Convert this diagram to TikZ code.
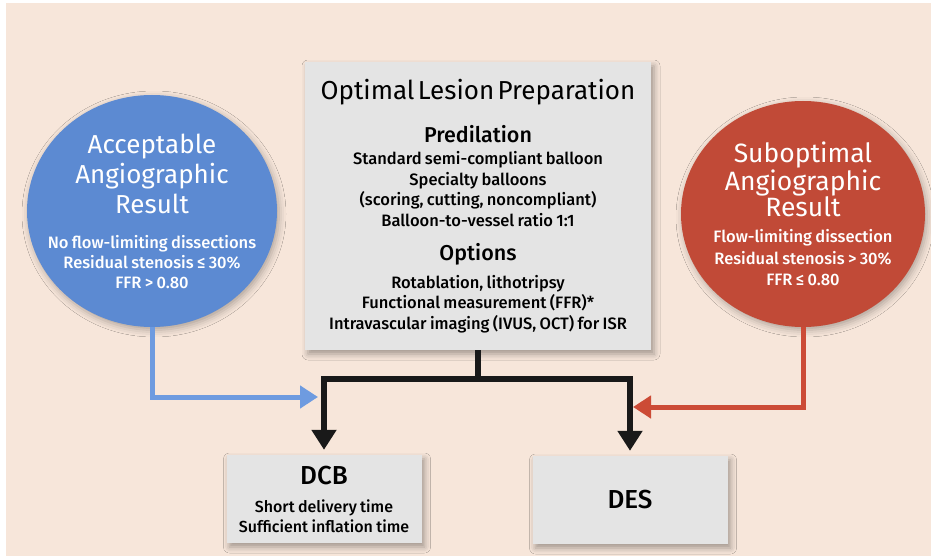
\documentclass[tikz,border=0pt]{standalone}
\usepackage{fontspec}
\setmainfont{Fira Sans}
\IfFontExistsTF{Fira Sans Medium}{\newfontfamily\medfont{Fira Sans Medium}}{\newfontfamily\medfont{Fira Sans}}
\usetikzlibrary{arrows.meta,shapes.geometric,shadows.blur}
\definecolor{peach}{HTML}{F7E6DA}
\definecolor{cardgray}{HTML}{E4E4E4}
\definecolor{accblue}{HTML}{5C8AD2}
\definecolor{subred}{HTML}{C14A37}
\definecolor{lineblue}{HTML}{6E9BE0}
\definecolor{linered}{HTML}{CC4B36}
\newcommand{\fsz}[2]{\fontsize{#1}{#2}\selectfont}
\begin{document}
\begin{tikzpicture}[x=1pt,y=-1pt,
  card/.style={rectangle,fill=cardgray,inner sep=0,align=center,blur shadow={shadow xshift=3pt,shadow yshift=-4pt,shadow blur radius=6pt,shadow opacity=35}},
  result/.style={ellipse,inner sep=0,blur shadow={shadow xshift=2pt,shadow yshift=-3pt,shadow blur radius=7pt,shadow opacity=30}},
  restext/.style={text=white,align=center,text width=240pt,inner sep=0},
  trunk/.style={line width=5.5pt,draw=black!90},
  branch/.style={trunk,-{Triangle[width=24pt,length=20pt]},shorten >=5pt},
  feed/.style={line width=5pt,-{Triangle[width=22pt,length=18pt]}}]
\useasboundingbox (0,0) rectangle (931,556);
\fill[white] (0,0) rectangle (931,556);
\fill[peach] (6,3) rectangle (931,556);
% lesion preparation
\node[card,minimum width=346pt,minimum height=288pt,text width=340pt] (prep) at (478,206) {%
  \fsz{26}{30}Optimal Lesion Preparation\par\vspace{17pt}
  \medfont\fsz{21.5}{26}Predilation\par\vspace{1.5pt}
  \fsz{16.5}{20.5}Standard semi-compliant balloon\\Specialty balloons\\(scoring, cutting, noncompliant)\\Balloon-to-vessel ratio 1:1\par\vspace{8pt}
  \fsz{21.5}{26}Options\par\vspace{7.5pt}
  \fsz{16.5}{20.5}Rotablation, lithotripsy\\Functional measurement (FFR)*\\Intravascular imaging (IVUS, OCT) for ISR\par};
% results
\node[result,fill=accblue,minimum width=250pt,minimum height=232pt] (acc) at (152,211) {};
\node[restext] (acctxt) at (acc) {%
  \fsz{26}{30}Acceptable\\Angiographic\\Result\par\vspace{15pt}
  \medfont\fsz{16.5}{20}No flow-limiting dissections\\Residual stenosis ≤ 30\%\\FFR > 0.80\par};
\node[result,fill=subred,minimum width=244pt,minimum height=226pt] (sub) at (803,214) {};
\node[restext] (subtxt) at (sub) {%
  \fsz{26.5}{26}Suboptimal\\Angiographic\\Result\par\vspace{5pt}
  \medfont\fsz{16.5}{21.5}Flow-limiting dissection\\Residual stenosis > 30\%\\FFR ≤ 0.80\par};
% devices
\node[card,minimum width=195pt,minimum height=88pt,text width=190pt] (dcb) at (324,499) {%
  \medfont\fsz{26}{30}DCB\par\vspace{8pt}
  \fsz{16}{20}Short delivery time\\Sufficient inflation time\par};
\node[card,minimum width=195pt,minimum height=88pt,text width=190pt] (des) at (630,500) {\medfont\fsz{26}{30}DES};
% connectors
\coordinate (split) at (478,379);
\coordinate (bluein) at (318,397);
\coordinate (redin) at (633,407);
\draw[trunk] (prep.south) -- (split);
\draw[branch] (split) -| (dcb.north);
\draw[branch] (split) -| (des.north);
\draw[feed,lineblue] (acc.south) |- (bluein);
\draw[feed,linered] (sub.south) |- (redin);
\end{tikzpicture}
\end{document}
